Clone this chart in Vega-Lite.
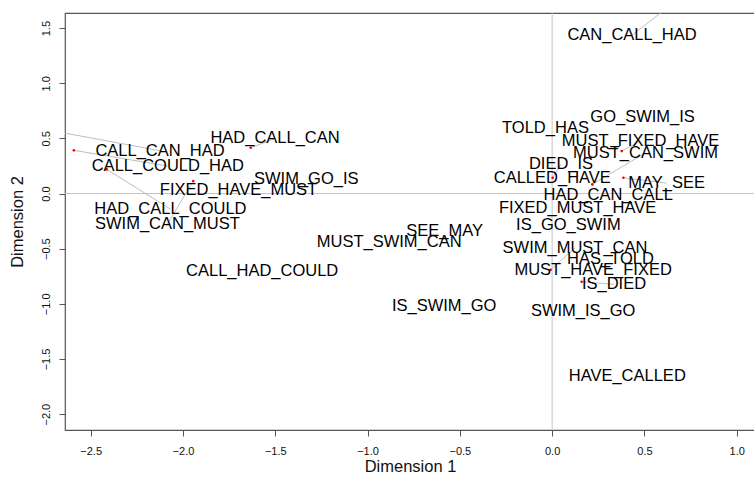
{
  "$schema": "https://vega.github.io/schema/vega-lite/v6.json",
  "width": 690,
  "height": 417,
  "autosize": {"type": "none"},
  "padding": {"left": 65, "top": 13, "right": 0, "bottom": 51},
  "config": {
    "view": {"stroke": "#555555", "strokeWidth": 1.2},
    "font": "Liberation Sans",
    "axis": {
      "grid": false,
      "domain": false,
      "tickSize": 6,
      "tickColor": "#555555",
      "tickWidth": 1,
      "labelFontSize": 11,
      "labelColor": "#111111",
      "labelFlush": false,
      "labelOverlap": false,
      "titleFontSize": 16.5,
      "titleFontWeight": "normal",
      "titleColor": "#111111",
      "format": ".1f"
    }
  },
  "datasets": {
    "words": [
      {"word": "CAN_CALL_HAD", "lx": 0.433, "ly": 1.437, "px": 0.650, "py": 1.718},
      {"word": "GO_SWIM_IS", "lx": 0.490, "ly": 0.696},
      {"word": "TOLD_HAS", "lx": -0.036, "ly": 0.597},
      {"word": "MUST_FIXED_HAVE", "lx": 0.479, "ly": 0.476, "px": 0.377, "py": 0.385},
      {"word": "MUST_CAN_SWIM", "lx": 0.506, "ly": 0.370, "px": 0.218, "py": 0.083},
      {"word": "DIED_IS", "lx": 0.048, "ly": 0.265, "px": 0.003, "py": 0.143},
      {"word": "CALLED_HAVE", "lx": 0.001, "ly": 0.143},
      {"word": "MAY_SEE", "lx": 0.620, "ly": 0.095, "px": 0.386, "py": 0.143},
      {"word": "HAD_CAN_CALL", "lx": 0.304, "ly": -0.014},
      {"word": "FIXED_MUST_HAVE", "lx": 0.138, "ly": -0.134},
      {"word": "IS_GO_SWIM", "lx": 0.088, "ly": -0.286},
      {"word": "SWIM_MUST_CAN", "lx": 0.124, "ly": -0.491, "px": -0.008, "py": -0.691},
      {"word": "HAS_TOLD", "lx": 0.316, "ly": -0.594},
      {"word": "MUST_HAVE_FIXED", "lx": 0.222, "ly": -0.694},
      {"word": "IS_DIED", "lx": 0.335, "ly": -0.823, "px": 0.160, "py": -0.800},
      {"word": "SWIM_IS_GO", "lx": 0.168, "ly": -1.063},
      {"word": "HAVE_CALLED", "lx": 0.407, "ly": -1.655},
      {"word": "SEE_MAY", "lx": -0.582, "ly": -0.337},
      {"word": "MUST_SWIM_CAN", "lx": -0.883, "ly": -0.443},
      {"word": "IS_SWIM_GO", "lx": -0.585, "ly": -1.017},
      {"word": "CALL_HAD_COULD", "lx": -1.571, "ly": -0.700},
      {"word": "HAD_CALL_CAN", "lx": -1.501, "ly": 0.500, "px": -1.633, "py": 0.415},
      {"word": "CALL_CAN_HAD", "lx": -2.124, "ly": 0.388, "px": -2.829, "py": 0.607},
      {"word": "CALL_COULD_HAD", "lx": -2.082, "ly": 0.249, "px": -2.591, "py": 0.392},
      {"word": "SWIM_GO_IS", "lx": -1.332, "ly": 0.131},
      {"word": "FIXED_HAVE_MUST", "lx": -1.699, "ly": 0.032},
      {"word": "HAD_CALL_COULD", "lx": -2.068, "ly": -0.141, "px": -2.413, "py": 0.219},
      {"word": "SWIM_CAN_MUST", "lx": -2.084, "ly": -0.277, "px": -1.944, "py": 0.113}
    ]
  },
  "layer": [
    {
      "data": {"values": [{"v": 0}]},
      "mark": {"type": "rule", "color": "#c4c4c4", "strokeWidth": 1},
      "encoding": {
        "x": {"field": "v", "type": "quantitative", "scale": {"domain": [-2.639, 1.099], "nice": false, "zero": false},
              "title": "Dimension 1",
              "axis": {"values": [-2.5, -2, -1.5, -1, -0.5, 0, 0.5, 1], "labelPadding": 9, "titlePadding": 2}}
      }
    },
    {
      "data": {"values": [{"v": 0}]},
      "mark": {"type": "rule", "color": "#c4c4c4", "strokeWidth": 1},
      "encoding": {
        "y": {"field": "v", "type": "quantitative", "scale": {"domain": [-2.144, 1.637], "nice": false, "zero": false},
              "title": "Dimension 2",
              "axis": {"values": [-2, -1.5, -1, -0.5, 0, 0.5, 1, 1.5], "labelAngle": 270, "labelAlign": "center", "labelBaseline": "bottom", "labelPadding": 8, "titlePadding": 15}}
      }
    },
    {
      "data": {"name": "words"},
      "transform": [{"filter": "isValid(datum.px)"}],
      "mark": {"type": "rule", "color": "#bebebe", "strokeWidth": 1, "clip": true},
      "encoding": {
        "x": {"field": "px", "type": "quantitative", "scale": {"domain": [-2.639, 1.099], "nice": false, "zero": false}},
        "y": {"field": "py", "type": "quantitative", "scale": {"domain": [-2.144, 1.637], "nice": false, "zero": false}},
        "x2": {"field": "lx"},
        "y2": {"field": "ly"}
      }
    },
    {
      "data": {"name": "words"},
      "transform": [{"filter": "isValid(datum.px)"}],
      "mark": {"type": "circle", "color": "#ff0000", "opacity": 1, "size": 7, "clip": true},
      "encoding": {
        "x": {"field": "px", "type": "quantitative", "scale": {"domain": [-2.639, 1.099], "nice": false, "zero": false}},
        "y": {"field": "py", "type": "quantitative", "scale": {"domain": [-2.144, 1.637], "nice": false, "zero": false}}
      }
    },
    {
      "data": {"name": "words"},
      "mark": {"type": "text", "fontSize": 16.5, "color": "#000000", "align": "center", "baseline": "middle", "font": "Liberation Sans"},
      "encoding": {
        "x": {"field": "lx", "type": "quantitative", "scale": {"domain": [-2.639, 1.099], "nice": false, "zero": false}},
        "y": {"field": "ly", "type": "quantitative", "scale": {"domain": [-2.144, 1.637], "nice": false, "zero": false}},
        "text": {"field": "word"}
      }
    }
  ]
}
